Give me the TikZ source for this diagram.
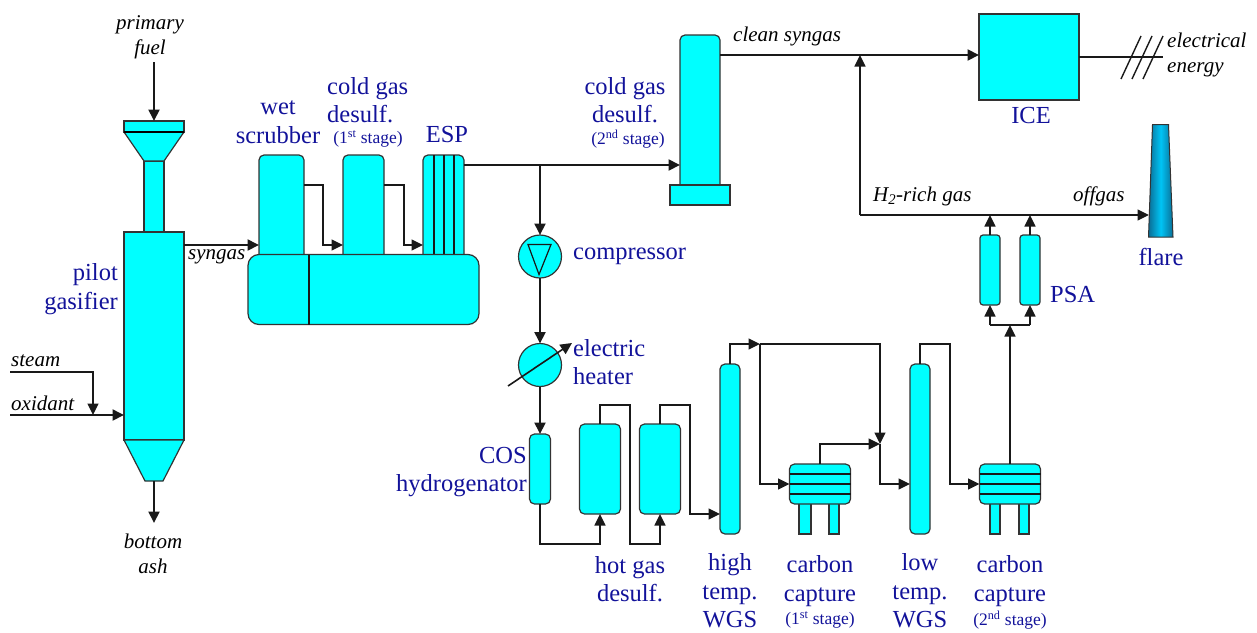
\documentclass[tikz,border=0pt]{standalone}
\usepackage{fontspec}
\setmainfont{Liberation Serif}
\usetikzlibrary{arrows.meta}
\definecolor{unitfill}{HTML}{00FFFF}
\definecolor{labelblue}{HTML}{12129A}
\definecolor{flarecore}{HTML}{00C4F5}
\definecolor{flareedge}{HTML}{0A6E96}
\tikzset{
  unit/.style={draw=black!80,fill=unitfill,line width=1.2pt},
  drum/.style={unit,rectangle,rounded corners=5pt,inner sep=0pt,outer sep=0pt},
  box/.style={unit,rectangle,inner sep=0pt,outer sep=0pt},
  wheel/.style={unit,circle,inner sep=0pt,outer sep=0pt,minimum size=43pt},
  pipe/.style={line width=1.4pt,black!90},
  flow/.style={pipe,-{Triangle[length=11.5pt,width=11pt]}},
  mainflow/.style={flow,line width=2pt},
  tag/.style={text=labelblue,inner sep=0pt,font=\fontsize{24.5}{28.5}\selectfont,align=center},
  subtag/.style={text=labelblue,inner sep=0pt,font=\fontsize{17.5}{20}\selectfont},
  stream/.style={inner sep=0pt,font=\itshape\fontsize{21}{25}\selectfont,align=center},
}
\begin{document}
\begin{tikzpicture}[x=1pt,y=-1pt]
 \useasboundingbox (0,0) rectangle (1257,632);
 % gasifier
 \node[box,minimum width=20pt,minimum height=71pt] (neck) at (154,196.5) {};
 \node[box,minimum width=60pt,minimum height=11pt] (hopper) at (154,126.5) {};
 \node[box,minimum width=60pt,minimum height=208pt] (gasifier) at (154,336) {};
 \coordinate (conetip) at (154,481);
 \draw[unit] (hopper.south west) -- (hopper.south east) -- (neck.north east) -- (neck.north west) -- cycle;
 \draw[line width=2.4pt] (hopper.south west) -- (hopper.south east);
 \draw[unit] (gasifier.south west) -- (gasifier.south east) -- ([xshift=9pt]conetip) -- ([xshift=-9pt]conetip) -- cycle;
 \coordinate (fuelin) at (154,62);
 \coordinate (ashout) at (154,523);
 \draw[mainflow] (fuelin) -- (hopper.north);
 \draw[mainflow] (conetip) -- (ashout);
 %
 \coordinate (steamin) at (10,372);
 \coordinate (oxin) at (10,415);
 \coordinate (oxtee) at (93,415);
 \draw[flow] (steamin) -| (oxtee);
 \draw[mainflow] (oxin) -- ([yshift=-183pt]gasifier.north west);
 %
 % gas cleaning train
 \node[drum,minimum width=45pt,minimum height=110pt] (scrubber) at (281.5,210) {};
 \node[drum,minimum width=41pt,minimum height=110pt] (coldone) at (363.5,210) {};
 \node[drum,minimum width=41pt,minimum height=110pt] (esp) at (443.5,210) {};
 \foreach \f in {11,21,31} \draw[pipe] ([xshift=\f pt]esp.north west) -- ([xshift=\f pt]esp.south west);
 \node[drum,rounded corners=11pt,minimum width=231pt,minimum height=70pt] (sump) at (363.5,289.5) {};
 \draw[pipe] ([xshift=61pt]sump.north west) -- ([xshift=61pt]sump.south west);
 %
 \draw[mainflow] ([yshift=-13pt]gasifier.north east) -- ([yshift=-90pt]scrubber.north west);
 \draw[flow] ([yshift=-30pt]scrubber.north east) -- ++(19,0) |- ([yshift=-90pt]coldone.north west);
 \draw[flow] ([yshift=-30pt]coldone.north east) -- ++(20,0) |- ([yshift=-90pt]esp.north west);
 %
 % second desulfurisation and engine
 \node[drum,minimum width=40pt,minimum height=155pt] (coldtwo) at (700,112.5) {};
 \node[box,minimum width=60pt,minimum height=20pt] (coldfoot) at (700,195) {};
 \node[box,minimum width=100pt,minimum height=86pt] (ice) at (1029,57) {};
 \draw[mainflow] ([yshift=-10pt]esp.north east) -- ([yshift=-130pt]coldtwo.north west);
 \draw[mainflow] ([yshift=-20pt]coldtwo.north east) -- ([yshift=2pt]ice.west);
 %
 \coordinate (powerend) at (1163,57);
 \draw[pipe] (ice.east) -- (powerend);
 \foreach \f in {0,11,22} \draw[pipe] (1121+\f,79) -- (1141+\f,36);
 %
 % compressor and heater
 \coordinate (esptee) at (540,165);
 \node[wheel] (compressor) at (540,256.5) {};
 \draw[pipe,line width=1.2pt] ([shift={(-12,-12)}]compressor.center) -- ([shift={(11,-12)}]compressor.center) -- ([shift={(-1,18)}]compressor.center) -- cycle;
 \node[wheel] (heater) at (540,365) {};
 \draw[mainflow,line width=1.6pt] ([shift={(-32,21)}]heater.center) -- ([shift={(32,-22)}]heater.center);
 \draw[mainflow] (esptee) -- (compressor.north);
 \draw[mainflow] (compressor.south) -- (heater.north);
 %
 % shift and hot desulfurisation
 \node[drum,minimum width=21pt,minimum height=70pt] (cos) at (540,469) {};
 \node[drum,minimum width=41pt,minimum height=90pt] (hotone) at (600,469) {};
 \node[drum,minimum width=41pt,minimum height=90pt] (hottwo) at (660,469) {};
 \node[drum,minimum width=20pt,minimum height=170pt] (htwgs) at (730,449) {};
 \node[drum,minimum width=20pt,minimum height=170pt] (ltwgs) at (920,449) {};
 \draw[mainflow] (heater.south) -- (cos.north);
 \draw[flow] (cos.south) -- ++(0,40) -| (hotone.south);
 \draw[flow] (hotone.north) -- ++(0,-19) -| ++(30,139) -| (hottwo.south);
 \draw[flow] (hottwo.north) -- ++(0,-19) -- ++(30,0) |- ([yshift=-150pt]htwgs.north west);
 %
 % carbon capture
 \node[box,minimum width=12pt,minimum height=36pt] (lega) at (805,516) {};
 \node[box,minimum width=10pt,minimum height=36pt] (legb) at (834,516) {};
 \node[box,minimum width=10pt,minimum height=36pt] (legc) at (995,516) {};
 \node[box,minimum width=10pt,minimum height=36pt] (legd) at (1024,516) {};
 \node[drum,minimum width=61pt,minimum height=40pt] (captureone) at (820,484) {};
 \node[drum,minimum width=61pt,minimum height=40pt] (capturetwo) at (1010,484) {};
 \foreach \f in {-10,0,10} {
  \draw[pipe] ([yshift=\f pt]captureone.west) -- ([yshift=\f pt]captureone.east);
  \draw[pipe] ([yshift=\f pt]capturetwo.west) -- ([yshift=\f pt]capturetwo.east);
 }
 %
 \coordinate (httee) at (760,344);
 \coordinate (mixtee) at (880,444);
 \draw[flow] (htwgs.north) -- ++(0,-20) -- (httee);
 \draw[flow] (httee) |- (captureone.west);
 \draw[flow] (httee) -- ++(120,0) -- (mixtee);
 \draw[flow] (captureone.north) |- (mixtee);
 \draw[flow] (mixtee) |- ([yshift=-120pt]ltwgs.north west);
 \draw[flow] (ltwgs.north) -- ++(0,-20) -- ++(30,0) |- (capturetwo.west);
 %
 % hydrogen purification
 \node[drum,rounded corners=3pt,minimum width=20pt,minimum height=70pt] (psaone) at (990,270) {};
 \node[drum,rounded corners=3pt,minimum width=20pt,minimum height=70pt] (psatwo) at (1030,270) {};
 \coordinate (psatee) at (1010,325);
 \coordinate (h2corner) at (860,215);
 \coordinate (h2tee) at (860,55);
 \coordinate (flarein) at (1149,215);
 \draw[flow] (capturetwo.north) -- (psatee);
 \draw[pipe] (psaone.south |- psatee) -- (psatwo.south |- psatee);
 \draw[flow] (psaone.south |- psatee) -- (psaone.south);
 \draw[flow] (psatwo.south |- psatee) -- (psatwo.south);
 \draw[flow] (psaone.north) -- (psaone.north |- h2corner);
 \draw[flow] (psatwo.north) -- (psatwo.north |- h2corner);
 \draw[flow] (h2corner) -- (h2tee);
 \draw[flow] (h2corner) -- (flarein);
 %
 \shade[left color=flareedge,right color=flareedge,middle color=flarecore,draw=black!80,line width=1pt] (1148.5,237) -- (1152.5,124.5) -- (1168.5,124.5) -- (1173,237) -- cycle;
 %
 % labels
 \node[stream] (fuellabel) at (150,37) {primary\\fuel};
 \node[stream] (ashlabel) at (153,554) {bottom\\ash};
 \node[stream,anchor=west] (steamlabel) at (11,361) {steam};
 \node[stream,anchor=west] (oxlabel) at (11,403) {oxidant};
 \node[stream,anchor=west] (syngaslabel) at (188,257) {syngas};
 \node[stream,anchor=west] (cleanlabel) at (733,36) {clean syngas};
 \node[stream,anchor=west,align=left] (powerlabel) at (1167,55) {electrical\\energy};
 \node[stream,anchor=west] (h2label) at (873,196) {H\textsubscript{2}-rich gas};
 \node[stream,anchor=west] (offgaslabel) at (1073,196) {offgas};
 %
 \node[tag,align=right,anchor=east] (gasifierlabel) at (118,289) {pilot\\gasifier};
 \node[tag] (scrubberlabel) at (278,122) {wet\\scrubber};
 \node[tag,align=left,anchor=west] (coldonelabel) at (327,100) {cold gas\\desulf.};
 \node[subtag] (coldonestage) at (368,139) {(1\textsuperscript{st} stage)};
 \node[tag] (esplabel) at (447,135) {ESP};
 \node[tag] (coldtwolabel) at (625,100) {cold gas\\desulf.};
 \node[subtag] (coldtwostage) at (628,139) {(2\textsuperscript{nd} stage)};
 \node[tag] (icelabel) at (1031,116) {ICE};
 \node[tag] (flarelabel) at (1161,257) {flare};
 \node[tag,anchor=west] (psalabel) at (1050,295) {PSA};
 \node[tag,anchor=west] (compressorlabel) at (573,256) {compressor};
 \node[tag,anchor=west,align=left] (heaterlabel) at (573,362) {electric\\heater};
 \node[tag,align=right,anchor=east] (coslabel) at (527,472) {COS\\hydrogenator};
 \node[tag] (hotlabel) at (630,579) {hot gas\\desulf.};
 \node[tag] (htlabel) at (730,591) {high\\temp.\\WGS};
 \node[tag] (captureonelabel) at (820,581) {carbon\\capture};
 \node[subtag] (captureonestage) at (820,620) {(1\textsuperscript{st} stage)};
 \node[tag] (ltlabel) at (920,591) {low\\temp.\\WGS};
 \node[tag] (capturetwolabel) at (1010,581) {carbon\\capture};
 \node[subtag] (capturetwostage) at (1010,620) {(2\textsuperscript{nd} stage)};
\end{tikzpicture}
\end{document}
